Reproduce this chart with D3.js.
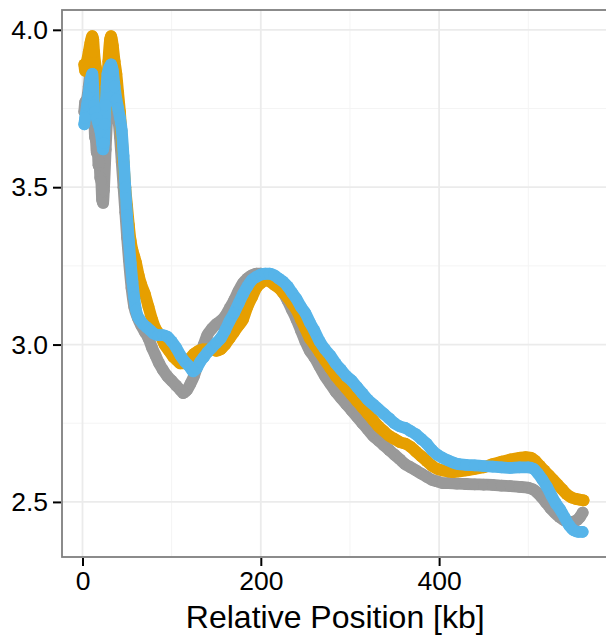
<!DOCTYPE html>
<html>
<head>
<meta charset="utf-8">
<script src="https://cdn.jsdelivr.net/npm/d3@7/dist/d3.min.js"></script>
<style>
  html, body { margin: 0; padding: 0; background: #fff; }
  svg { display: block; font-family: "Liberation Sans", Arial, Helvetica, sans-serif; }
</style>
</head>
<body>
<svg id="chart" width="606" height="635"></svg>
<script>
// ---------- data ----------
const xTicks = [0, 200, 400];
const xMinorTicks = [100, 300, 500];
const yTicks = [2.5, 3.0, 3.5, 4.0];
const yTickLabels = ["2.5", "3.0", "3.5", "4.0"];
const yMinorTicks = [2.75, 3.25, 3.75];
const xTitle = "Relative Position [kb]";

const grayKb = [2,3,5,7,9,11,12,13,14,15,16,17,18,19,20,21,22,23,24,26,28,30,32,34,36,38,40,42,44,46,48,50,52,55,58,62,66,70,74,78,82,86,90,95,100,105,110,113,117,121,125,128,132,136,140,145,150,155,160,165,170,175,180,185,190,195,200,205,210,215,220,225,230,235,240,245,250,255,260,266,272,278,284,290,296,302,308,314,320,326,332,338,344,350,356,362,368,374,380,386,392,398,404,410,420,430,440,450,460,470,480,490,500,505,510,515,520,525,530,535,540,545,550,555,558,561];
const grayVal = [3.74,3.77,3.78,3.82,3.88,3.92,3.90,3.75,3.66,3.65,3.61,3.62,3.57,3.58,3.53,3.52,3.46,3.45,3.49,3.62,3.74,3.82,3.85,3.83,3.80,3.76,3.72,3.66,3.58,3.50,3.42,3.34,3.27,3.18,3.12,3.085,3.06,3.04,3.02,2.99,2.965,2.94,2.92,2.90,2.885,2.87,2.855,2.846,2.855,2.875,2.90,2.925,2.97,3.00,3.03,3.05,3.065,3.075,3.09,3.115,3.14,3.17,3.195,3.21,3.22,3.225,3.225,3.22,3.21,3.20,3.185,3.165,3.14,3.11,3.08,3.045,3.01,2.98,2.96,2.93,2.90,2.875,2.85,2.83,2.81,2.79,2.77,2.75,2.73,2.71,2.695,2.68,2.665,2.65,2.635,2.62,2.61,2.60,2.59,2.58,2.57,2.565,2.56,2.56,2.558,2.557,2.556,2.555,2.554,2.552,2.55,2.548,2.545,2.54,2.53,2.515,2.497,2.48,2.465,2.452,2.442,2.436,2.437,2.443,2.452,2.466];

const orangeKb = [2,3,5,7,9,11,12,13,15,17,19,21,23,24,25,27,29,31,32,34,36,38,40,42,44,46,48,50,52,54,56,58,60,63,66,70,74,78,82,87,92,97,102,106,110,115,120,125,130,135,140,145,150,155,160,165,170,175,180,185,190,195,200,205,210,215,220,225,230,235,240,245,250,255,260,266,272,278,284,290,296,302,308,314,320,326,332,338,344,350,356,362,368,374,380,386,392,398,404,410,416,422,430,440,450,460,470,480,490,497,503,508,513,518,523,528,533,538,543,548,553,558,562];
const orangeVal = [3.89,3.87,3.90,3.93,3.96,3.98,3.97,3.93,3.88,3.85,3.82,3.78,3.74,3.71,3.72,3.78,3.90,3.97,3.98,3.95,3.90,3.86,3.80,3.74,3.66,3.58,3.50,3.44,3.38,3.33,3.30,3.28,3.26,3.22,3.19,3.16,3.12,3.08,3.05,3.03,3.00,2.98,2.96,2.95,2.94,2.94,2.955,2.97,2.98,2.985,2.985,2.985,2.98,2.985,3.00,3.02,3.04,3.06,3.08,3.12,3.15,3.18,3.195,3.205,3.20,3.19,3.18,3.165,3.15,3.13,3.11,3.08,3.05,3.02,3.00,2.975,2.95,2.925,2.90,2.88,2.86,2.84,2.82,2.80,2.78,2.76,2.74,2.725,2.71,2.70,2.69,2.685,2.675,2.66,2.645,2.63,2.615,2.605,2.60,2.597,2.595,2.597,2.60,2.605,2.61,2.62,2.628,2.635,2.64,2.642,2.64,2.63,2.615,2.60,2.585,2.57,2.555,2.54,2.525,2.515,2.51,2.507,2.505];

const blueKb = [2,3,5,7,9,11,12,13,14,16,18,20,22,23,24,25,26,27,28,30,32,34,36,38,40,42,44,46,48,50,52,54,56,58,60,62,64,68,72,76,80,85,90,95,100,105,110,115,120,124,128,132,136,140,145,150,155,160,165,170,175,180,185,190,195,200,205,210,215,220,225,230,235,240,245,250,255,260,266,272,278,284,290,296,302,308,314,320,326,332,338,344,350,356,362,368,374,380,386,392,398,404,410,416,422,430,440,450,460,470,480,490,500,506,511,516,521,526,531,536,541,546,551,556,561];
const blueVal = [3.70,3.72,3.76,3.80,3.84,3.86,3.82,3.76,3.74,3.72,3.70,3.68,3.64,3.62,3.64,3.70,3.76,3.82,3.86,3.88,3.89,3.87,3.82,3.78,3.75,3.72,3.68,3.60,3.50,3.41,3.33,3.26,3.20,3.15,3.11,3.09,3.08,3.065,3.055,3.045,3.035,3.03,3.03,3.025,3.01,2.99,2.965,2.945,2.93,2.915,2.925,2.945,2.96,2.975,2.99,3.005,3.02,3.045,3.075,3.10,3.13,3.16,3.185,3.205,3.215,3.222,3.225,3.225,3.22,3.21,3.20,3.185,3.165,3.145,3.12,3.10,3.07,3.045,3.01,2.985,2.965,2.94,2.92,2.90,2.885,2.865,2.845,2.825,2.81,2.795,2.78,2.765,2.75,2.74,2.735,2.725,2.715,2.70,2.685,2.665,2.65,2.64,2.632,2.625,2.62,2.618,2.616,2.614,2.612,2.61,2.608,2.61,2.61,2.605,2.59,2.57,2.548,2.52,2.495,2.475,2.45,2.425,2.41,2.405,2.405];

const seriesColors = ["#999999", "#E69F00", "#56B4E9"];

// ---------- layout ----------
const svg = d3.select("#chart");
const panel = { left: 62, top: 10, right: 608.5, bottom: 557 };
const x = d3.scaleLinear().domain([-23, 590]).range([panel.left, panel.right]);
const y = d3.scaleLinear().domain([2.325, 4.063]).range([panel.bottom, panel.top]);

const clipId = "panelClip";
svg.append("defs").append("clipPath").attr("id", clipId)
  .append("rect").attr("x", panel.left).attr("y", panel.top)
  .attr("width", panel.right - panel.left).attr("height", panel.bottom - panel.top);

svg.append("rect").attr("x", panel.left).attr("y", panel.top)
  .attr("width", panel.right - panel.left).attr("height", panel.bottom - panel.top)
  .attr("fill", "#ffffff");

// grid
const grid = svg.append("g");
grid.selectAll(".xminor").data(xMinorTicks).enter().append("line")
  .attr("x1", d => x(d)).attr("x2", d => x(d)).attr("y1", panel.top).attr("y2", panel.bottom)
  .attr("stroke", "#F4F4F4").attr("stroke-width", 1);
grid.selectAll(".yminor").data(yMinorTicks).enter().append("line")
  .attr("y1", d => y(d)).attr("y2", d => y(d)).attr("x1", panel.left).attr("x2", panel.right)
  .attr("stroke", "#F4F4F4").attr("stroke-width", 1);
grid.selectAll(".xmajor").data(xTicks).enter().append("line")
  .attr("x1", d => x(d)).attr("x2", d => x(d)).attr("y1", panel.top).attr("y2", panel.bottom)
  .attr("stroke", "#EBEBEB").attr("stroke-width", 1.8);
grid.selectAll(".ymajor").data(yTicks).enter().append("line")
  .attr("y1", d => y(d)).attr("y2", d => y(d)).attr("x1", panel.left).attr("x2", panel.right)
  .attr("stroke", "#EBEBEB").attr("stroke-width", 1.8);

// series
const series = [
  { kb: grayKb, val: grayVal, color: seriesColors[0] },
  { kb: orangeKb, val: orangeVal, color: seriesColors[1] },
  { kb: blueKb, val: blueVal, color: seriesColors[2] }
];
const r = 5.9;
const line = d3.line().x(d => x(d[0])).y(d => y(d[1])).curve(d3.curveMonotoneX);
const plot = svg.append("g").attr("clip-path", `url(#${clipId})`);
series.forEach(s => {
  const pts = s.kb.map((k, i) => [k, s.val[i]]);
  const g = plot.append("g");
  g.append("path").datum(pts).attr("d", line)
    .attr("fill", "none").attr("stroke", s.color).attr("stroke-width", 2 * r)
    .attr("stroke-linecap", "round").attr("stroke-linejoin", "round");
  g.selectAll("circle").data(pts).enter().append("circle")
    .attr("cx", d => x(d[0])).attr("cy", d => y(d[1])).attr("r", r)
    .attr("fill", s.color);
});

// panel border
svg.append("rect").attr("x", panel.left).attr("y", panel.top)
  .attr("width", panel.right - panel.left).attr("height", panel.bottom - panel.top)
  .attr("fill", "none").attr("stroke", "#7F7F7F").attr("stroke-width", 1.8);

// axes
const fontFam = '"Liberation Sans", Arial, Helvetica, sans-serif';
const yAxis = d3.axisLeft(y).tickValues(yTicks).tickFormat((d, i) => yTickLabels[i])
  .tickSize(8).tickPadding(5);
const gy = svg.append("g").attr("transform", `translate(${panel.left - 1},0)`).call(yAxis);
gy.select(".domain").remove();
gy.selectAll(".tick line").attr("stroke", "#000").attr("stroke-width", 2);
gy.selectAll(".tick text").attr("fill", "#000").style("font-size", "26.5px").style("font-family", fontFam);

const xAxis = d3.axisBottom(x).tickValues(xTicks).tickFormat(d3.format("d"))
  .tickSize(8).tickPadding(5);
const gx = svg.append("g").attr("transform", `translate(0,${panel.bottom + 1})`).call(xAxis);
gx.select(".domain").remove();
gx.selectAll(".tick line").attr("stroke", "#000").attr("stroke-width", 2);
gx.selectAll(".tick text").attr("fill", "#000").style("font-size", "26.5px").style("font-family", fontFam);

svg.append("text").attr("x", (panel.left + panel.right) / 2).attr("y", 628)
  .attr("text-anchor", "middle").attr("fill", "#000")
  .style("font-size", "32px").style("font-family", fontFam).text(xTitle);
</script>
</body>
</html>
